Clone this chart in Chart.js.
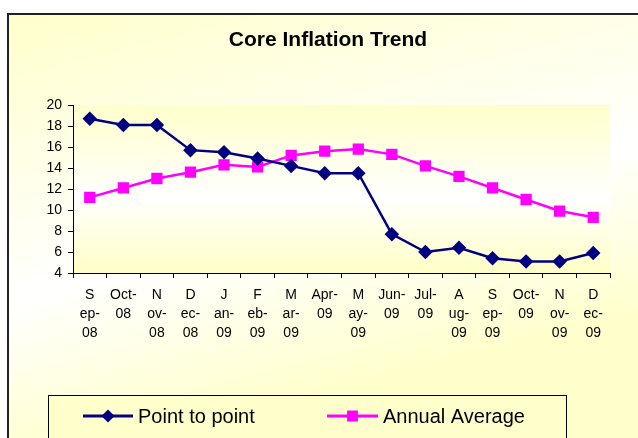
<!DOCTYPE html>
<html>
<head>
<meta charset="utf-8">
<script src="https://cdn.jsdelivr.net/npm/chart.js@4.4.1/dist/chart.umd.min.js"></script>
<style>
  html, body { margin: 0; padding: 0; background: #fff; }
  #wrap { width: 638px; height: 438px; }
</style>
</head>
<body>
<div id="wrap"><canvas id="inflationChart" width="638" height="438"></canvas></div>
<script>
const months = [
  ["S", "ep-", "08"], ["Oct-", "08"], ["N", "ov-", "08"], ["D", "ec-", "08"],
  ["J", "an-", "09"], ["F", "eb-", "09"], ["M", "ar-", "09"], ["Apr-", "09"],
  ["M", "ay-", "09"], ["Jun-", "09"], ["Jul-", "09"], ["A", "ug-", "09"],
  ["S", "ep-", "09"], ["Oct-", "09"], ["N", "ov-", "09"], ["D", "ec-", "09"]
];
const pointToPoint = [18.7, 18.1, 18.1, 15.7, 15.5, 14.9, 14.2, 13.5, 13.5, 7.7, 6.0, 6.4, 5.4, 5.1, 5.1, 5.9];
const annualAverage = [11.2, 12.1, 13.0, 13.6, 14.3, 14.1, 15.2, 15.6, 15.8, 15.3, 14.2, 13.2, 12.1, 11.0, 9.9, 9.3];
const yTicks = [4, 6, 8, 10, 12, 14, 16, 18, 20];
const chartTitle = "Core Inflation Trend";

const FONT = "Arial, 'Liberation Sans', sans-serif";

// background panel, plot area shading, title and the boxed legend
const excelLook = {
  id: "excelLook",
  beforeDraw(chart) {
    const ctx = chart.ctx;
    const a = chart.chartArea;
    ctx.save();
    ctx.fillStyle = "#ffffff";
    ctx.fillRect(0, 0, chart.width, chart.height);

    let g = ctx.createLinearGradient(7, 13, 143, 557);
    g.addColorStop(0, "#ffffcc");
    g.addColorStop(0.5, "#ffffff");
    g.addColorStop(0.8, "#ffffcc");
    g.addColorStop(1, "#ffffcc");
    ctx.fillStyle = g;
    ctx.fillRect(8, 14, chart.width, chart.height);
    ctx.strokeStyle = "#222";
    ctx.lineWidth = 2;
    ctx.strokeRect(8, 14, chart.width + 10, chart.height + 10);

    g = ctx.createLinearGradient(0, a.top, 0, a.bottom);
    g.addColorStop(0, "#ffffcc");
    g.addColorStop(0.55, "#ffffff");
    g.addColorStop(1, "#ffffc6");
    ctx.fillStyle = g;
    ctx.fillRect(a.left, a.top, a.right - a.left, a.bottom - a.top);

    ctx.fillStyle = "#000";
    ctx.font = "bold 21px " + FONT;
    ctx.textAlign = "center";
    ctx.textBaseline = "middle";
    ctx.fillText(chartTitle, 328, 40);
    ctx.restore();
  },
  afterDraw(chart) {
    const ctx = chart.ctx;
    ctx.save();
    ctx.fillStyle = "#ffffcc";
    ctx.fillRect(48, 395, 518, 60);
    ctx.strokeStyle = "#000";
    ctx.lineWidth = 1;
    ctx.strokeRect(48.5, 395.5, 518, 60);

    const items = [
      { ds: chart.data.datasets[0], x0: 83, x1: 133, tx: 138 },
      { ds: chart.data.datasets[1], x0: 327, x1: 378, tx: 383 }
    ];
    const y = 416;
    items.forEach((it) => {
      ctx.strokeStyle = it.ds.borderColor;
      ctx.lineWidth = 3;
      ctx.beginPath();
      ctx.moveTo(it.x0, y);
      ctx.lineTo(it.x1, y);
      ctx.stroke();
      Chart.helpers.drawPoint(ctx, {
        pointStyle: it.ds.pointStyle,
        radius: it.ds.pointStyle === "rect" ? 5.5 : 4.5,
        borderWidth: 1
      }, (it.x0 + it.x1) / 2, y);
      ctx.fillStyle = it.ds.borderColor;
      ctx.fill();
      ctx.fillStyle = "#000";
      ctx.font = "20px " + FONT;
      ctx.textBaseline = "middle";
      ctx.fillText(it.ds.label, it.tx, y + 1);
    });
    ctx.restore();
  }
};

new Chart(document.getElementById("inflationChart"), {
  type: "line",
  data: {
    labels: months,
    datasets: [
      {
        label: "Point to point",
        data: pointToPoint,
        borderColor: "#000080",
        backgroundColor: "#000080",
        borderWidth: 2.5,
        pointStyle: "rectRot",
        pointRadius: 5.5,
        pointHoverRadius: 5.5,
        tension: 0
      },
      {
        label: "Annual Average",
        data: annualAverage,
        borderColor: "#ff00ff",
        backgroundColor: "#ff00ff",
        borderWidth: 2.5,
        pointStyle: "rect",
        pointRadius: 6.2,
        pointHoverRadius: 6.2,
        tension: 0
      }
    ]
  },
  options: {
    responsive: false,
    animation: false,
    layout: { padding: { left: 0, right: 28, top: 105, bottom: 0 } },
    plugins: {
      legend: { display: false },
      tooltip: { enabled: false },
      title: { display: false }
    },
    scales: {
      x: {
        offset: true,
        grid: { offset: true, drawOnChartArea: false, tickLength: 5, color: "#000" },
        border: { color: "#000", width: 1 },
        ticks: {
          color: "#000",
          autoSkip: false,
          maxRotation: 0,
          padding: 8,
          font: { family: FONT, size: 14, lineHeight: 1.36 }
        },
        afterFit(s) { s.height = 438 - 273; }
      },
      y: {
        min: 4,
        max: 20,
        afterBuildTicks(s) { s.ticks = yTicks.map((v) => ({ value: v })); },
        grid: { drawOnChartArea: false, tickLength: 5, color: "#000" },
        border: { color: "#000", width: 1 },
        ticks: {
          color: "#000",
          padding: 6,
          font: { family: FONT, size: 14 }
        },
        afterFit(s) { s.width = 73; }
      }
    }
  },
  plugins: [excelLook]
});
</script>
</body>
</html>
